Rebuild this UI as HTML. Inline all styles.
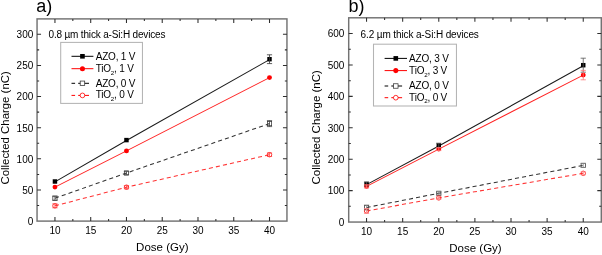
<!DOCTYPE html><html><head><meta charset="utf-8"><style>html,body{margin:0;padding:0;background:#fff;width:602px;height:255px;overflow:hidden}svg{display:block;will-change:transform}</style></head><body>
<svg width="602" height="255" viewBox="0 0 602 255" font-family='"Liberation Sans", sans-serif' fill="#000">
<rect width="602" height="255" fill="#fff"/>
<polyline points="54.95,181.90 126.47,140.50 269.51,59.60" fill="none" stroke="#1a1a1a" stroke-width="1.05"/>
<polyline points="54.95,187.10 126.47,150.90 269.51,77.60" fill="none" stroke="#f22" stroke-width="1.05"/>
<polyline points="54.95,198.20 126.47,173.00 269.51,123.60" fill="none" stroke="#333" stroke-width="1.05" stroke-dasharray="4.1,3.1"/>
<polyline points="54.95,205.80 126.47,187.20 269.51,154.70" fill="none" stroke="#f33" stroke-width="1.05" stroke-dasharray="4.1,3.1"/>
<rect x="52.72" y="179.27" width="4.45" height="4.45" fill="#000"/>
<rect x="124.24" y="137.87" width="4.45" height="4.45" fill="#000"/>
<rect x="267.28" y="56.97" width="4.45" height="4.45" fill="#000"/>
<circle cx="54.95" cy="187.10" r="2.44" fill="#f00"/>
<circle cx="126.47" cy="150.90" r="2.44" fill="#f00"/>
<circle cx="269.51" cy="77.60" r="2.44" fill="#f00"/>
<rect x="52.83" y="196.08" width="4.24" height="4.24" fill="none" stroke="#333" stroke-width="0.75"/>
<rect x="124.35" y="170.88" width="4.24" height="4.24" fill="none" stroke="#333" stroke-width="0.75"/>
<rect x="267.39" y="121.48" width="4.24" height="4.24" fill="none" stroke="#333" stroke-width="0.75"/>
<circle cx="54.95" cy="205.80" r="2.23" fill="none" stroke="#f00" stroke-width="0.8"/>
<circle cx="126.47" cy="187.20" r="2.23" fill="none" stroke="#f00" stroke-width="0.8"/>
<circle cx="269.51" cy="154.70" r="2.23" fill="none" stroke="#f00" stroke-width="0.8"/>
<path d="M269.51,54.80V63.60M266.91,54.80h5.2M266.91,63.60h5.2" stroke="#333" stroke-width="0.8" fill="none"/>
<path d="M54.95,196.20V200.20M52.35,196.20h5.2M52.35,200.20h5.2" stroke="#444" stroke-width="0.8" fill="none"/>
<path d="M126.47,171.40V174.60M123.87,171.40h5.2M123.87,174.60h5.2" stroke="#444" stroke-width="0.8" fill="none"/>
<path d="M269.51,120.60V126.60M266.91,120.60h5.2M266.91,126.60h5.2" stroke="#444" stroke-width="0.8" fill="none"/>
<path d="M54.95,203.80V207.80M52.35,203.80h5.2M52.35,207.80h5.2" stroke="#f44" stroke-width="0.8" fill="none"/>
<path d="M126.47,185.60V188.80M123.87,185.60h5.2M123.87,188.80h5.2" stroke="#f44" stroke-width="0.8" fill="none"/>
<path d="M269.51,152.90V156.50M266.91,152.90h5.2M266.91,156.50h5.2" stroke="#f44" stroke-width="0.8" fill="none"/>
<rect x="37.05" y="18.9" width="249.89999999999998" height="202.2" fill="none" stroke="#737373" stroke-width="1.45"/>
<path d="M54.95,221.1v-4M54.95,18.9v4" stroke="#2e2e2e" stroke-width="1.05"/>
<text x="54.95" y="233.70000000000002" font-size="10" text-anchor="middle">10</text>
<path d="M72.83,221.1v-2.1M72.83,18.9v2.1" stroke="#2e2e2e" stroke-width="1.05"/>
<path d="M90.71,221.1v-4M90.71,18.9v4" stroke="#2e2e2e" stroke-width="1.05"/>
<text x="90.71" y="233.70000000000002" font-size="10" text-anchor="middle">15</text>
<path d="M108.59,221.1v-2.1M108.59,18.9v2.1" stroke="#2e2e2e" stroke-width="1.05"/>
<path d="M126.47,221.1v-4M126.47,18.9v4" stroke="#2e2e2e" stroke-width="1.05"/>
<text x="126.47" y="233.70000000000002" font-size="10" text-anchor="middle">20</text>
<path d="M144.35,221.1v-2.1M144.35,18.9v2.1" stroke="#2e2e2e" stroke-width="1.05"/>
<path d="M162.23,221.1v-4M162.23,18.9v4" stroke="#2e2e2e" stroke-width="1.05"/>
<text x="162.23" y="233.70000000000002" font-size="10" text-anchor="middle">25</text>
<path d="M180.11,221.1v-2.1M180.11,18.9v2.1" stroke="#2e2e2e" stroke-width="1.05"/>
<path d="M197.99,221.1v-4M197.99,18.9v4" stroke="#2e2e2e" stroke-width="1.05"/>
<text x="197.99" y="233.70000000000002" font-size="10" text-anchor="middle">30</text>
<path d="M215.87,221.1v-2.1M215.87,18.9v2.1" stroke="#2e2e2e" stroke-width="1.05"/>
<path d="M233.75,221.1v-4M233.75,18.9v4" stroke="#2e2e2e" stroke-width="1.05"/>
<text x="233.75" y="233.70000000000002" font-size="10" text-anchor="middle">35</text>
<path d="M251.63,221.1v-2.1M251.63,18.9v2.1" stroke="#2e2e2e" stroke-width="1.05"/>
<path d="M269.51,221.1v-4M269.51,18.9v4" stroke="#2e2e2e" stroke-width="1.05"/>
<text x="269.51" y="233.70000000000002" font-size="10" text-anchor="middle">40</text>
<text x="33.3" y="224.90" font-size="10" text-anchor="end">0</text>
<path d="M37.05,205.53h2.1M286.95,205.53h-2.1" stroke="#2e2e2e" stroke-width="1.05"/>
<path d="M37.05,189.97h4M286.95,189.97h-4" stroke="#2e2e2e" stroke-width="1.05"/>
<text x="33.3" y="193.77" font-size="10" text-anchor="end">50</text>
<path d="M37.05,174.41h2.1M286.95,174.41h-2.1" stroke="#2e2e2e" stroke-width="1.05"/>
<path d="M37.05,158.84h4M286.95,158.84h-4" stroke="#2e2e2e" stroke-width="1.05"/>
<text x="33.3" y="162.64" font-size="10" text-anchor="end">100</text>
<path d="M37.05,143.27h2.1M286.95,143.27h-2.1" stroke="#2e2e2e" stroke-width="1.05"/>
<path d="M37.05,127.71h4M286.95,127.71h-4" stroke="#2e2e2e" stroke-width="1.05"/>
<text x="33.3" y="131.51" font-size="10" text-anchor="end">150</text>
<path d="M37.05,112.14h2.1M286.95,112.14h-2.1" stroke="#2e2e2e" stroke-width="1.05"/>
<path d="M37.05,96.58h4M286.95,96.58h-4" stroke="#2e2e2e" stroke-width="1.05"/>
<text x="33.3" y="100.38" font-size="10" text-anchor="end">200</text>
<path d="M37.05,81.01h2.1M286.95,81.01h-2.1" stroke="#2e2e2e" stroke-width="1.05"/>
<path d="M37.05,65.45h4M286.95,65.45h-4" stroke="#2e2e2e" stroke-width="1.05"/>
<text x="33.3" y="69.25" font-size="10" text-anchor="end">250</text>
<path d="M37.05,49.88h2.1M286.95,49.88h-2.1" stroke="#2e2e2e" stroke-width="1.05"/>
<path d="M37.05,34.32h4M286.95,34.32h-4" stroke="#2e2e2e" stroke-width="1.05"/>
<text x="33.3" y="38.12" font-size="10" text-anchor="end">300</text>
<text x="162.3" y="250.5" font-size="11.5" text-anchor="middle">Dose (Gy)</text>
<text transform="translate(9.1,127.9) rotate(-90)" font-size="11.4" text-anchor="middle">Collected Charge (nC)</text>
<text x="36.3" y="12.2" font-size="18">a)</text>
<text x="48.5" y="38.4" font-size="10" letter-spacing="-0.17">0.8 µm thick a-Si:H devices</text>
<rect x="60.7" y="42.4" width="81.74999999999999" height="61.00000000000001" fill="#fff" stroke="#b4b4b4" stroke-width="1.05"/>
<path d="M71.50,56.3H93.40" stroke="#000" stroke-width="1"/>
<rect x="80.14" y="53.99" width="4.62" height="4.62" fill="#000"/>
<text x="95.7" y="60.0" font-size="10" letter-spacing="-0.2">AZO, 1 V</text>
<path d="M71.50,68.7H93.40" stroke="#f00" stroke-width="1"/>
<circle cx="82.45" cy="68.70" r="2.53" fill="#f00"/>
<text x="95.7" y="71.9" font-size="10" letter-spacing="-0.2">TiO<tspan font-size="6.2" dy="2.6">2</tspan><tspan dy="-2.6">, 1 V</tspan></text>
<path d="M71.50,83.3h3.6M78.20,83.3H89.00" stroke="#000" stroke-width="1"/>
<rect x="80.21" y="81.06" width="4.48" height="4.48" fill="#fff" stroke="#333" stroke-width="0.75"/>
<text x="95.7" y="86.9" font-size="10" letter-spacing="-0.2">AZO, 0 V</text>
<path d="M71.50,95.4h3.6M78.20,95.4H89.00" stroke="#f00" stroke-width="1"/>
<circle cx="82.45" cy="95.40" r="2.35" fill="#fff" stroke="#f00" stroke-width="0.8"/>
<text x="95.7" y="98.4" font-size="10" letter-spacing="-0.2">TiO<tspan font-size="6.2" dy="2.6">2</tspan><tspan dy="-2.6">, 0 V</tspan></text>
<polyline points="366.55,184.60 438.78,146.00 583.24,65.80" fill="none" stroke="#1a1a1a" stroke-width="1.05"/>
<polyline points="366.55,186.40 438.78,149.10 583.24,75.10" fill="none" stroke="#f22" stroke-width="1.05"/>
<polyline points="366.55,207.50 438.78,193.30 583.24,165.40" fill="none" stroke="#333" stroke-width="1.05" stroke-dasharray="4.1,3.1"/>
<polyline points="366.55,211.00 438.78,197.90 583.24,173.30" fill="none" stroke="#f33" stroke-width="1.05" stroke-dasharray="4.1,3.1"/>
<rect x="364.32" y="181.77" width="4.45" height="4.45" fill="#000"/>
<rect x="436.55" y="143.17" width="4.45" height="4.45" fill="#000"/>
<rect x="581.01" y="62.97" width="4.45" height="4.45" fill="#000"/>
<circle cx="366.55" cy="186.40" r="2.44" fill="#f00"/>
<circle cx="438.78" cy="149.10" r="2.44" fill="#f00"/>
<circle cx="583.24" cy="75.10" r="2.44" fill="#f00"/>
<rect x="364.43" y="205.38" width="4.24" height="4.24" fill="none" stroke="#333" stroke-width="0.75"/>
<rect x="436.66" y="191.18" width="4.24" height="4.24" fill="none" stroke="#333" stroke-width="0.75"/>
<rect x="581.12" y="163.28" width="4.24" height="4.24" fill="none" stroke="#333" stroke-width="0.75"/>
<circle cx="366.55" cy="211.00" r="2.23" fill="none" stroke="#f00" stroke-width="0.8"/>
<circle cx="438.78" cy="197.90" r="2.23" fill="none" stroke="#f00" stroke-width="0.8"/>
<circle cx="583.24" cy="173.30" r="2.23" fill="none" stroke="#f00" stroke-width="0.8"/>
<path d="M366.55,182.00V186.00M363.95,182.00h5.2M363.95,186.00h5.2" stroke="#555" stroke-width="0.8" fill="none"/>
<path d="M438.78,143.20V147.60M436.18,143.20h5.2M436.18,147.60h5.2" stroke="#555" stroke-width="0.8" fill="none"/>
<path d="M583.24,58.20V72.20M580.64,58.20h5.2M580.64,72.20h5.2" stroke="#555" stroke-width="0.8" fill="none"/>
<path d="M366.55,184.90V187.90M363.95,184.90h5.2M363.95,187.90h5.2" stroke="#f77" stroke-width="0.8" fill="none"/>
<path d="M438.78,147.60V150.60M436.18,147.60h5.2M436.18,150.60h5.2" stroke="#f77" stroke-width="0.8" fill="none"/>
<path d="M583.24,70.40V79.80M580.64,70.40h5.2M580.64,79.80h5.2" stroke="#f77" stroke-width="0.8" fill="none"/>
<path d="M366.55,205.00V210.00M363.95,205.00h5.2M363.95,210.00h5.2" stroke="#888" stroke-width="0.8" fill="none"/>
<path d="M438.78,191.80V194.80M436.18,191.80h5.2M436.18,194.80h5.2" stroke="#888" stroke-width="0.8" fill="none"/>
<path d="M583.24,163.40V167.40M580.64,163.40h5.2M580.64,167.40h5.2" stroke="#888" stroke-width="0.8" fill="none"/>
<path d="M366.55,208.50V213.50M363.95,208.50h5.2M363.95,213.50h5.2" stroke="#f88" stroke-width="0.8" fill="none"/>
<path d="M438.78,196.40V199.40M436.18,196.40h5.2M436.18,199.40h5.2" stroke="#f88" stroke-width="0.8" fill="none"/>
<path d="M583.24,171.80V174.80M580.64,171.80h5.2M580.64,174.80h5.2" stroke="#f88" stroke-width="0.8" fill="none"/>
<rect x="348.7" y="17.8" width="252.59999999999997" height="204.25" fill="none" stroke="#737373" stroke-width="1.45"/>
<path d="M366.55,222.05v-4M366.55,17.8v4" stroke="#2e2e2e" stroke-width="1.05"/>
<text x="366.55" y="235.0" font-size="10" text-anchor="middle">10</text>
<path d="M384.61,222.05v-2.1M384.61,17.8v2.1" stroke="#2e2e2e" stroke-width="1.05"/>
<path d="M402.67,222.05v-4M402.67,17.8v4" stroke="#2e2e2e" stroke-width="1.05"/>
<text x="402.67" y="235.0" font-size="10" text-anchor="middle">15</text>
<path d="M420.72,222.05v-2.1M420.72,17.8v2.1" stroke="#2e2e2e" stroke-width="1.05"/>
<path d="M438.78,222.05v-4M438.78,17.8v4" stroke="#2e2e2e" stroke-width="1.05"/>
<text x="438.78" y="235.0" font-size="10" text-anchor="middle">20</text>
<path d="M456.84,222.05v-2.1M456.84,17.8v2.1" stroke="#2e2e2e" stroke-width="1.05"/>
<path d="M474.89,222.05v-4M474.89,17.8v4" stroke="#2e2e2e" stroke-width="1.05"/>
<text x="474.89" y="235.0" font-size="10" text-anchor="middle">25</text>
<path d="M492.95,222.05v-2.1M492.95,17.8v2.1" stroke="#2e2e2e" stroke-width="1.05"/>
<path d="M511.01,222.05v-4M511.01,17.8v4" stroke="#2e2e2e" stroke-width="1.05"/>
<text x="511.01" y="235.0" font-size="10" text-anchor="middle">30</text>
<path d="M529.07,222.05v-2.1M529.07,17.8v2.1" stroke="#2e2e2e" stroke-width="1.05"/>
<path d="M547.12,222.05v-4M547.12,17.8v4" stroke="#2e2e2e" stroke-width="1.05"/>
<text x="547.12" y="235.0" font-size="10" text-anchor="middle">35</text>
<path d="M565.18,222.05v-2.1M565.18,17.8v2.1" stroke="#2e2e2e" stroke-width="1.05"/>
<path d="M583.24,222.05v-4M583.24,17.8v4" stroke="#2e2e2e" stroke-width="1.05"/>
<text x="583.24" y="235.0" font-size="10" text-anchor="middle">40</text>
<text x="344.4" y="225.85" font-size="10" text-anchor="end">0</text>
<path d="M348.7,206.34h2.1M601.3,206.34h-2.1" stroke="#2e2e2e" stroke-width="1.05"/>
<path d="M348.7,190.63h4M601.3,190.63h-4" stroke="#2e2e2e" stroke-width="1.05"/>
<text x="344.4" y="194.43" font-size="10" text-anchor="end">100</text>
<path d="M348.7,174.92h2.1M601.3,174.92h-2.1" stroke="#2e2e2e" stroke-width="1.05"/>
<path d="M348.7,159.21h4M601.3,159.21h-4" stroke="#2e2e2e" stroke-width="1.05"/>
<text x="344.4" y="163.01" font-size="10" text-anchor="end">200</text>
<path d="M348.7,143.50h2.1M601.3,143.50h-2.1" stroke="#2e2e2e" stroke-width="1.05"/>
<path d="M348.7,127.79h4M601.3,127.79h-4" stroke="#2e2e2e" stroke-width="1.05"/>
<text x="344.4" y="131.59" font-size="10" text-anchor="end">300</text>
<path d="M348.7,112.08h2.1M601.3,112.08h-2.1" stroke="#2e2e2e" stroke-width="1.05"/>
<path d="M348.7,96.37h4M601.3,96.37h-4" stroke="#2e2e2e" stroke-width="1.05"/>
<text x="344.4" y="100.17" font-size="10" text-anchor="end">400</text>
<path d="M348.7,80.66h2.1M601.3,80.66h-2.1" stroke="#2e2e2e" stroke-width="1.05"/>
<path d="M348.7,64.95h4M601.3,64.95h-4" stroke="#2e2e2e" stroke-width="1.05"/>
<text x="344.4" y="68.75" font-size="10" text-anchor="end">500</text>
<path d="M348.7,49.24h2.1M601.3,49.24h-2.1" stroke="#2e2e2e" stroke-width="1.05"/>
<path d="M348.7,33.53h4M601.3,33.53h-4" stroke="#2e2e2e" stroke-width="1.05"/>
<text x="344.4" y="37.33" font-size="10" text-anchor="end">600</text>
<text x="475.5" y="251.7" font-size="11.5" text-anchor="middle">Dose (Gy)</text>
<text transform="translate(320.0,127.35) rotate(-90)" font-size="11.5" text-anchor="middle">Collected Charge (nC)</text>
<text x="348.5" y="12.2" font-size="18">b)</text>
<text x="360.6" y="38.4" font-size="10" letter-spacing="-0.12">6.2 µm thick a-Si:H devices</text>
<rect x="373.5" y="44.2" width="82.94999999999999" height="61.8" fill="#fff" stroke="#b4b4b4" stroke-width="1.05"/>
<path d="M384.60,58.4H407.00" stroke="#000" stroke-width="1"/>
<rect x="393.49" y="56.09" width="4.62" height="4.62" fill="#000"/>
<text x="409.1" y="62.0" font-size="10" letter-spacing="-0.2">AZO, 3 V</text>
<path d="M384.60,70.6H407.00" stroke="#f00" stroke-width="1"/>
<circle cx="395.80" cy="70.60" r="2.53" fill="#f00"/>
<text x="409.1" y="74.0" font-size="10" letter-spacing="-0.2">TiO<tspan font-size="6.2" dy="2.6">2</tspan><tspan dy="-2.6">, 3 V</tspan></text>
<path d="M384.60,86.0h3.6M391.30,86.0H402.10" stroke="#000" stroke-width="1"/>
<rect x="393.56" y="83.76" width="4.48" height="4.48" fill="#fff" stroke="#333" stroke-width="0.75"/>
<text x="409.1" y="89.0" font-size="10" letter-spacing="-0.2">AZO, 0 V</text>
<path d="M384.60,97.7h3.6M391.30,97.7H402.10" stroke="#f00" stroke-width="1"/>
<circle cx="395.80" cy="97.70" r="2.35" fill="#fff" stroke="#f00" stroke-width="0.8"/>
<text x="409.1" y="100.7" font-size="10" letter-spacing="-0.2">TiO<tspan font-size="6.2" dy="2.6">2</tspan><tspan dy="-2.6">, 0 V</tspan></text>
</svg></body></html>
